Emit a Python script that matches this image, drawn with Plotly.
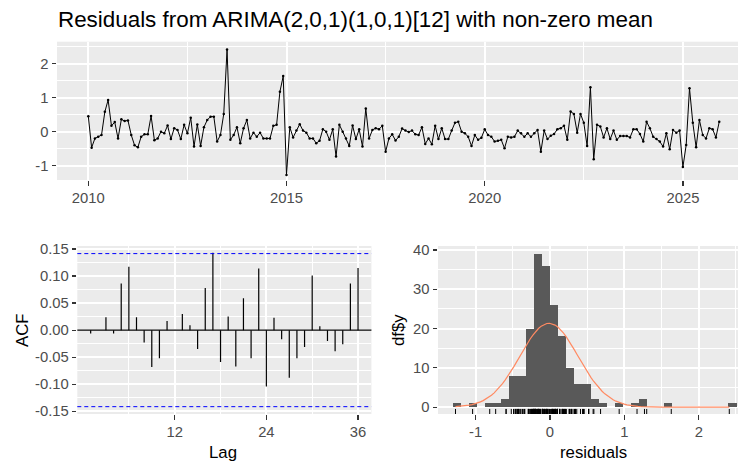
import numpy as np
import plotly.graph_objects as go

# ---------------- data ----------------
title_text = "Residuals from ARIMA(2,0,1)(1,0,1)[12] with non-zero mean"
start_year = 2010
frequency = 12
residuals = [
    0.45, -0.47, -0.20, -0.15, -0.10, 0.58, 0.93, 0.17, 0.28, -0.20, 0.36, 0.31,
    0.33, -0.10, -0.40, -0.46, -0.15, -0.08, -0.08, 0.46, -0.25, -0.20, 0.00, -0.05,
    0.18, -0.22, 0.10, 0.05, -0.22, 0.20, -0.05, 0.41, -0.44, 0.21, -0.42, 0.13,
    0.34, 0.44, 0.44, -0.29, -0.10, 0.52, 2.41, -0.24, -0.10, 0.13, -0.34, 0.10,
    0.34, -0.20, -0.03, -0.15, -0.03, -0.20, -0.20, -0.20, 0.17, 0.20, 1.17, 1.63,
    -1.27, 0.13, -0.17, 0.03, 0.22, 0.03, -0.03, -0.20, -0.20, -0.34, -0.27, 0.07,
    0.00, -0.24, 0.07, -0.73, 0.20, 0.00, -0.20, -0.42, 0.18, -0.22, 0.07, -0.44,
    0.68, -0.20, 0.05, 0.10, 0.07, 0.17, -0.59, -0.20, -0.08, -0.26, -0.15, 0.09,
    0.03, -0.01, 0.03, -0.08, -0.10, 0.13, -0.36, -0.20, -0.37, 0.17, -0.22, 0.10,
    -0.22, -0.22, 0.03, 0.26, 0.29, 0.00, -0.05, -0.15, -0.42, -0.10, -0.24, -0.18,
    0.07, -0.10, -0.15, -0.29, -0.27, -0.24, -0.49, -0.15, -0.17, -0.15, 0.03, -0.05,
    -0.15, -0.05, -0.15, -0.05, 0.05, -0.59, 0.03, -0.22, -0.12, -0.07, 0.07, 0.10,
    0.17, -0.24, 0.59, 0.52, -0.03, 0.52, 0.26, -0.42, 1.30, -0.81, 0.20, 0.15,
    -0.17, 0.10, -0.22, 0.03, -0.24, -0.13, -0.13, -0.13, -0.17, 0.07, 0.07, -0.07,
    -0.29, 0.29, 0.10, -0.15, -0.22, -0.29, -0.44, -0.05, -0.52, 0.05, -0.03, 0.03,
    -1.04, -0.39, 1.27, 0.26, -0.46, 0.34, -0.10, -0.20, 0.10, 0.07, -0.17, 0.29,
]

acf_lags = list(range(1, 37))
acf_values = [
    -0.006, 0.000, 0.024, -0.006, 0.086, 0.117, 0.024, -0.023, -0.068, -0.052, 0.017, 0.000,
    0.030, 0.009, -0.035, 0.078, 0.143, -0.059, 0.025, -0.067, 0.059, -0.052, 0.114, -0.104,
    0.023, -0.017, -0.088, -0.052, -0.031, 0.101, 0.007, -0.020, -0.039, -0.026, 0.086, 0.115,
]

hist_binwidth = 0.109
hist_first_bin = -12          # index of the left-most bin (boundary at 0)
hist_counts = [1, 0, 1, 0, 1, 1, 2, 8, 8, 20, 39, 36, 26, 18, 10, 6, 6, 2, 1, 0, 1, 0,
               1, 2, 0, 0, 1, 0, 0, 0, 0, 0, 0, 0, 1]

# tick labels
ts_xticks = [2010, 2015, 2020, 2025]
ts_yticks = [-1, 0, 1, 2]
acf_xticks = [12, 24, 36]
acf_yticks = [-0.15, -0.10, -0.05, 0.00, 0.05, 0.10, 0.15]
hist_xticks = [-1, 0, 1, 2]
hist_yticks = [0, 10, 20, 30, 40]

# ---------------- derived ----------------
res = np.array(residuals)
n = len(res)
t = start_year + np.arange(n) / frequency
ci = 1.96 / np.sqrt(n)

W, H = 738, 462
def px_x(p):
    return p / W
def px_y(p):
    return 1 - p / H

FONT = "Liberation Sans, Arial, sans-serif"
TICKFONT = dict(family=FONT, size=14.8, color="#4D4D4D")
BG = "#EBEBEB"

def lab(v, fmt):
    s = fmt.format(v)
    return s.replace("\u2212", "-")

fig = go.Figure()

# ---- top: residual time series ----
fig.add_trace(go.Scatter(
    x=t, y=res, mode="lines+markers",
    line=dict(color="black", width=1),
    marker=dict(color="black", size=2.5),
    xaxis="x", yaxis="y", showlegend=False, hoverinfo="skip"))

# ---- ACF ----
ax, ay = [], []
for k, v in zip(acf_lags, acf_values):
    ax += [k, k, None]
    ay += [0, v, None]
fig.add_trace(go.Scatter(x=ax, y=ay, mode="lines",
                         line=dict(color="black", width=1.2),
                         xaxis="x2", yaxis="y2", showlegend=False, hoverinfo="skip"))

# ---- Histogram ----
centers = [(hist_first_bin + i + 0.5) * hist_binwidth for i in range(len(hist_counts))]
fig.add_trace(go.Bar(x=centers, y=hist_counts, width=hist_binwidth,
                     marker=dict(color="#595959", line=dict(width=0)),
                     xaxis="x3", yaxis="y3", showlegend=False, hoverinfo="skip"))
xx = np.linspace(res.min(), res.max(), 100)
mu, sd = res.mean(), res.std(ddof=1)
yy = n * hist_binwidth * np.exp(-0.5 * ((xx - mu) / sd) ** 2) / (sd * np.sqrt(2 * np.pi))
fig.add_trace(go.Scatter(x=xx, y=yy, mode="lines",
                         line=dict(color="#ff8a62", width=1.2),
                         xaxis="x3", yaxis="y3", showlegend=False, hoverinfo="skip"))

hist_yrange = [-1.75, 41.0]
rug_len = 0.03 * (hist_yrange[1] - hist_yrange[0])
rx, ry = [], []
for r in res:
    rx += [r, r, None]
    ry += [hist_yrange[0], hist_yrange[0] + rug_len, None]
fig.add_trace(go.Scatter(x=rx, y=ry, mode="lines",
                         line=dict(color="black", width=1),
                         xaxis="x3", yaxis="y3", showlegend=False, hoverinfo="skip"))

def axis(domain, rng, tickvals, ticktext, minor_vals, anchor):
    return dict(domain=domain, range=rng, anchor=anchor, automargin=False,
                tickmode="array", tickvals=tickvals, ticktext=ticktext,
                ticks="outside", ticklen=4.5, tickwidth=1.2, tickcolor="#333333",
                tickfont=TICKFONT, showgrid=True, gridcolor="white", gridwidth=2,
                zeroline=False, showline=False, fixedrange=True,
                minor=dict(tickmode="array", tickvals=minor_vals, showgrid=True,
                           gridcolor="white", gridwidth=1, ticks=""))

top_x_dom = [px_x(57), 1.0]
top_y_dom = [px_y(180), px_y(41.7)]
bot_y_dom = [px_y(414), px_y(246)]
acf_x_dom = [px_x(77.3), px_x(371.4)]
hist_x_dom = [px_x(438), 1.0]

fig.update_layout(
    width=W, height=H, margin=dict(l=0, r=0, t=0, b=0, autoexpand=False),
    paper_bgcolor="white", plot_bgcolor=BG, bargap=0,
    xaxis=axis(top_x_dom, [2009.21, 2026.39], ts_xticks, [str(v) for v in ts_xticks],
               [2012.5, 2017.5, 2022.5], "y"),
    yaxis=axis(top_y_dom, [-1.42, 2.64], ts_yticks, [str(v) for v in ts_yticks],
               [-0.5, 0.5, 1.5, 2.5], "x"),
    xaxis2=axis(acf_x_dom, [-0.75, 37.75], acf_xticks, [str(v) for v in acf_xticks],
                [6, 18, 30], "y2"),
    yaxis2=axis(bot_y_dom, [-0.1550, 0.1555], acf_yticks,
                [lab(v, "{:.2f}") for v in acf_yticks],
                [-0.125, -0.075, -0.025, 0.025, 0.075, 0.125], "x2"),
    xaxis3=axis(hist_x_dom, [-1.505, 2.527], hist_xticks, [str(v) for v in hist_xticks],
                [-1.5, -0.5, 0.5, 1.5, 2.5], "y3"),
    yaxis3=axis(bot_y_dom, hist_yrange, hist_yticks, [str(v) for v in hist_yticks],
                [5, 15, 25, 35], "x3"),
)

# ACF reference lines
fig.add_shape(type="line", xref="x2 domain", yref="y2", x0=0, x1=1, y0=0, y1=0,
              line=dict(color="black", width=1.2))
for c in (ci, -ci):
    fig.add_shape(type="line", xref="x2 domain", yref="y2", x0=0, x1=1, y0=c, y1=c,
                  line=dict(color="#0000FF", width=1, dash="4px,3px"))

# title and axis titles
def ann(text, x, y, size, angle=0, xanchor="center"):
    fig.add_annotation(text=text, x=px_x(x), y=px_y(y), xref="paper", yref="paper",
                       xanchor=xanchor, yanchor="middle", textangle=angle,
                       showarrow=False,
                       font=dict(family=FONT, size=size, color="black"))

ann(title_text, 56, 20, 22.4, xanchor="left")
ann("ACF", 22, 330, 16.8, angle=-90)
ann("df$y", 398, 330, 16.8, angle=-90)
ann("Lag", 223, 452, 16.8)
ann("residuals", 593, 452, 16.8)

fig.write_html(
    "out.html",
    config={"displayModeBar": False, "staticPlot": True},
    post_script="document.documentElement.style.margin='0';"
                "document.body.style.margin='0';document.body.style.padding='0';")
